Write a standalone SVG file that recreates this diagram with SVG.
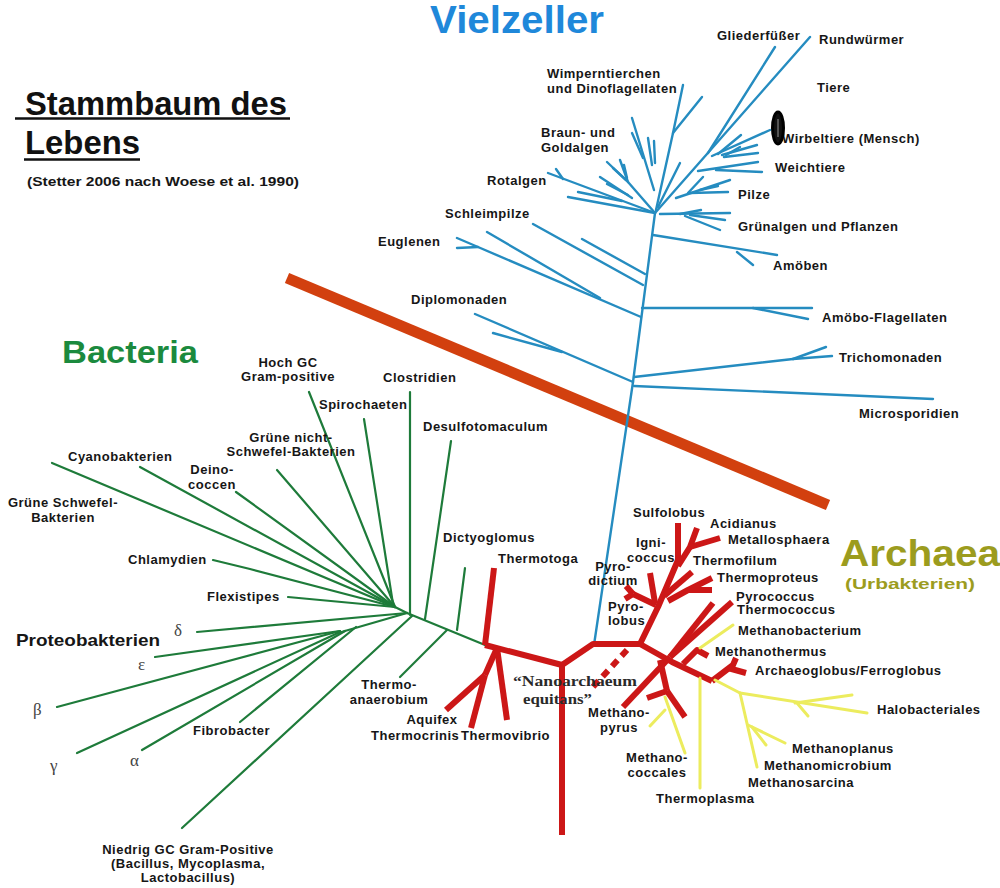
<svg xmlns="http://www.w3.org/2000/svg" width="1000" height="888" viewBox="0 0 1000 888">
  <style>
    .lbl { font-family: "Liberation Sans", Arial, sans-serif; font-weight: bold; font-size: 13px; letter-spacing: 0.5px; fill: #161616; }
    .mid { text-anchor: middle; }
    .greek { font-family: "Liberation Serif", "Times New Roman", serif; font-size: 17px; fill: #444; }
    .euk { stroke: #258cc0; stroke-width: 2.4; fill: none; stroke-linecap: round; stroke-linejoin: round; }
    .bac { stroke: #1e7b3a; stroke-width: 2.2; fill: none; stroke-linecap: round; stroke-linejoin: round; }
    .arc { stroke: #cc1717; stroke-width: 6; fill: none; stroke-linecap: butt; stroke-linejoin: round; }
    .eury { stroke: #ecec5e; stroke-width: 3; fill: none; stroke-linecap: round; stroke-linejoin: round; }
  </style>
  <rect width="1000" height="888" fill="#ffffff"/>

  <!-- heading -->
  <g id="title">
    <text x="25" y="115" font-family="Liberation Sans, Arial, sans-serif" font-weight="bold" font-size="34" fill="#111" textLength="262" lengthAdjust="spacingAndGlyphs">Stammbaum des</text>
    <line x1="15" y1="118.5" x2="290" y2="118.5" stroke="#111" stroke-width="2.5"/>
    <text x="25" y="154" font-family="Liberation Sans, Arial, sans-serif" font-weight="bold" font-size="34" fill="#111" textLength="115" lengthAdjust="spacingAndGlyphs">Lebens</text>
    <line x1="24" y1="159.5" x2="140" y2="159.5" stroke="#111" stroke-width="2.5"/>
    <text x="27" y="186" class="lbl" style="font-size:12.5px;letter-spacing:0" textLength="272" lengthAdjust="spacingAndGlyphs">(Stetter 2006 nach Woese et al. 1990)</text>
  </g>

  <!-- domain names -->
  <g id="domain-vielzeller">
    <text x="430" y="33" font-family="Liberation Sans, Arial, sans-serif" font-weight="bold" font-size="39" fill="#1f88da" textLength="174" lengthAdjust="spacingAndGlyphs">Vielzeller</text>
  </g>
  <g id="domain-bacteria">
    <text x="62" y="363" font-family="Liberation Sans, Arial, sans-serif" font-weight="bold" font-size="31" fill="#1b8a3e" textLength="136" lengthAdjust="spacingAndGlyphs">Bacteria</text>
  </g>
  <g id="domain-archaea">
    <text x="840" y="566" font-family="Liberation Sans, Arial, sans-serif" font-weight="bold" font-size="36" fill="#9c9c1e" textLength="160" lengthAdjust="spacingAndGlyphs">Archaea</text>
    <text x="845" y="589" font-family="Liberation Sans, Arial, sans-serif" font-weight="bold" font-size="15" fill="#9c9c1e" textLength="130" lengthAdjust="spacingAndGlyphs">(Urbakterien)</text>
  </g>

  <!-- separating bar -->
  <line id="divider" x1="287" y1="278" x2="828" y2="505" stroke="#d2400f" stroke-width="11"/>

  <g id="connectors">
    <!-- eukaryotes (blue) -->
    <g class="euk">
      <polyline points="655,213 633,382 594,645"/>
      <line x1="533" y1="224" x2="643" y2="285"/>
      <line x1="582" y1="239" x2="645" y2="274"/>
      <polyline points="457,238 478,247 641,317"/>
      <line x1="457" y1="248" x2="478" y2="247"/>
      <line x1="487" y1="232" x2="600" y2="298"/>
      <line x1="475" y1="314" x2="633" y2="382"/>
      <line x1="493" y1="333" x2="562" y2="352"/>
      <line x1="642" y1="308" x2="812" y2="308"/>
      <line x1="753" y1="308" x2="808" y2="319"/>
      <line x1="634" y1="377" x2="793" y2="359"/>
      <line x1="793" y1="359" x2="826" y2="347"/>
      <line x1="793" y1="359" x2="832" y2="356"/>
      <line x1="634" y1="386" x2="933" y2="399"/>
      <!-- upper left crown -->
      <line x1="548" y1="173" x2="655" y2="213"/>
      <line x1="556" y1="169" x2="563" y2="179"/>
      <line x1="568" y1="197" x2="655" y2="213"/>
      <line x1="578" y1="192" x2="622" y2="201"/>
      <line x1="600" y1="177" x2="632" y2="198"/>
      <line x1="607" y1="184" x2="628" y2="195"/>
      <polyline points="607,162 628,182 655,213"/>
      <line x1="620" y1="160" x2="628" y2="182"/>
      <line x1="624" y1="165" x2="627" y2="178"/>
      <line x1="613" y1="168" x2="626" y2="180"/>
      <line x1="632" y1="118" x2="654" y2="190"/>
      <line x1="632" y1="133" x2="643" y2="158"/>
      <line x1="648" y1="138" x2="652" y2="165"/>
      <line x1="654" y1="141" x2="655" y2="163"/>
      <polyline points="683,85 673,133 656,210"/>
      <line x1="702" y1="97" x2="673" y2="133"/>
      <line x1="680" y1="163" x2="658" y2="207"/>
      <!-- upper right crown -->
      <line x1="655" y1="213" x2="810" y2="37"/>
      <line x1="775" y1="47" x2="708" y2="153"/>
      <line x1="770" y1="130" x2="712" y2="156"/>
      <line x1="741" y1="135" x2="718" y2="154"/>
      <line x1="757" y1="145" x2="722" y2="155"/>
      <line x1="758" y1="153" x2="724" y2="157"/>
      <line x1="740" y1="147" x2="726" y2="155"/>
      <line x1="758" y1="162" x2="698" y2="171"/>
      <line x1="762" y1="172" x2="716" y2="170"/>
      <line x1="730" y1="180" x2="676" y2="198"/>
      <line x1="728" y1="192" x2="690" y2="193"/>
      <line x1="703" y1="177" x2="688" y2="193"/>
      <line x1="718" y1="186" x2="700" y2="190"/>
      <line x1="730" y1="213" x2="660" y2="214"/>
      <line x1="725" y1="220" x2="690" y2="215"/>
      <line x1="720" y1="230" x2="685" y2="216"/>
      <line x1="701" y1="210" x2="680" y2="214"/>
      <line x1="653" y1="235" x2="777" y2="255"/>
      <line x1="737" y1="252" x2="753" y2="265"/>
    </g>

    <!-- bacteria (green) -->
    <g class="bac">
      <line x1="407" y1="613" x2="485" y2="645"/>
      <line x1="309" y1="392" x2="395" y2="607"/>
      <line x1="364" y1="419" x2="393" y2="604"/>
      <line x1="410" y1="392" x2="410" y2="615"/>
      <line x1="451" y1="441" x2="425" y2="619"/>
      <line x1="465" y1="568" x2="457" y2="630"/>
      <line x1="277" y1="470" x2="395" y2="607"/>
      <line x1="236" y1="492" x2="395" y2="607"/>
      <line x1="140" y1="467" x2="395" y2="607"/>
      <line x1="52" y1="463" x2="395" y2="607"/>
      <polyline points="213,560 250,569 395,607"/>
      <line x1="288" y1="597" x2="395" y2="607"/>
      <line x1="395" y1="607" x2="407" y2="613"/>
      <line x1="197" y1="632" x2="407" y2="613"/>
      <line x1="155" y1="657" x2="340" y2="631"/>
      <line x1="57" y1="707" x2="340" y2="631"/>
      <line x1="77" y1="753" x2="338" y2="633"/>
      <line x1="142" y1="750" x2="345" y2="631"/>
      <line x1="240" y1="722" x2="356" y2="627"/>
      <line x1="338" y1="633" x2="407" y2="613"/>
      <line x1="182" y1="828" x2="412" y2="616"/>
      <line x1="400" y1="677" x2="447" y2="630"/>
    </g>

    <!-- archaea and hyperthermophile bacteria (red) -->
    <g class="arc">
      <line x1="494" y1="568" x2="485" y2="645"/>
      <line x1="485" y1="645" x2="562" y2="665"/>
      <line x1="562" y1="665" x2="562" y2="835"/>
      <polyline points="562,665 593,644 640,644"/>
      <line x1="497" y1="648" x2="485" y2="675"/>
      <line x1="485" y1="675" x2="446" y2="710"/>
      <line x1="485" y1="675" x2="471" y2="728"/>
      <line x1="497" y1="648" x2="507" y2="720"/>
      <polyline points="640,644 658,607 678,560 678,523"/>
      <polyline points="678,566 690,547 697,528"/>
      <line x1="690" y1="547" x2="720" y2="538"/>
      <line x1="664" y1="596" x2="692" y2="572"/>
      <polyline points="668,601 688,590 712,578"/>
      <line x1="688" y1="590" x2="712" y2="590"/>
      <line x1="656" y1="605" x2="633" y2="594"/>
      <line x1="633" y1="594" x2="626" y2="586"/>
      <line x1="633" y1="594" x2="625" y2="599"/>
      <line x1="650" y1="573" x2="655" y2="603"/>
      <polyline points="640,644 672,662 712,681"/>
      <polyline points="712,681 733,665 736,658"/>
      <line x1="728" y1="668" x2="746" y2="673"/>
      <polyline points="683,664 697,650 708,656"/>
      <line x1="623" y1="707" x2="670" y2="657"/>
      <line x1="670" y1="657" x2="713" y2="603"/>
      <line x1="670" y1="657" x2="732" y2="602"/>
      <line x1="660" y1="660" x2="667" y2="691"/>
      <line x1="667" y1="691" x2="647" y2="698"/>
      <line x1="667" y1="691" x2="685" y2="717"/>
      <line x1="627" y1="650" x2="592" y2="688" stroke-dasharray="8 6"/>
    </g>

    <!-- euryarchaeota (yellow) -->
    <g class="eury">
      <line x1="700" y1="648" x2="733" y2="625"/>
      <line x1="700" y1="678" x2="700" y2="788"/>
      <polyline points="715,680 740,693 867,713"/>
      <line x1="795" y1="703" x2="852" y2="695"/>
      <line x1="797" y1="703" x2="808" y2="716"/>
      <line x1="740" y1="693" x2="757" y2="767"/>
      <line x1="748" y1="725" x2="785" y2="743"/>
      <line x1="752" y1="727" x2="766" y2="745"/>
      <line x1="665" y1="697" x2="685" y2="753"/>
      <line x1="665" y1="710" x2="650" y2="726"/>
    </g>
  </g>

  <!-- eukaryote taxa -->
  <g id="n-gliederfuesser"><text class="lbl" x="717" y="40">Gliederfüßer</text></g>
  <g id="n-rundwuermer"><text class="lbl" x="819" y="44">Rundwürmer</text></g>
  <g id="n-tiere"><text class="lbl" x="817" y="92">Tiere</text></g>
  <g id="n-wirbeltiere"><text class="lbl" x="782" y="143">Wirbeltiere (Mensch)</text>
    <ellipse cx="778" cy="128" rx="5.5" ry="16" fill="#111" stroke="#000" stroke-width="3"/>
    <line x1="778" y1="119" x2="778" y2="137" stroke="#999" stroke-width="1"/>
  </g>
  <g id="n-weichtiere"><text class="lbl" x="775" y="172">Weichtiere</text></g>
  <g id="n-pilze"><text class="lbl" x="738" y="199">Pilze</text></g>
  <g id="n-gruenalgen"><text class="lbl" x="738" y="231">Grünalgen und Pflanzen</text></g>
  <g id="n-amoeben"><text class="lbl" x="773" y="270">Amöben</text></g>
  <g id="n-wimperntierchen"><text class="lbl" x="547" y="78">Wimperntierchen</text><text class="lbl" x="547" y="93">und Dinoflagellaten</text></g>
  <g id="n-braunalgen"><text class="lbl" x="541" y="137">Braun- und</text><text class="lbl" x="541" y="152">Goldalgen</text></g>
  <g id="n-rotalgen"><text class="lbl" x="487" y="185">Rotalgen</text></g>
  <g id="n-schleimpilze"><text class="lbl" x="445" y="218">Schleimpilze</text></g>
  <g id="n-euglenen"><text class="lbl" x="378" y="246">Euglenen</text></g>
  <g id="n-diplomonaden"><text class="lbl" x="411" y="304">Diplomonaden</text></g>
  <g id="n-amoebo-flagellaten"><text class="lbl" x="822" y="322">Amöbo-Flagellaten</text></g>
  <g id="n-trichomonaden"><text class="lbl" x="839" y="362">Trichomonaden</text></g>
  <g id="n-microsporidien"><text class="lbl" x="859" y="418">Microsporidien</text></g>

  <!-- bacterial taxa -->
  <g id="n-hochgc"><text class="lbl mid" x="288" y="367">Hoch GC</text><text class="lbl mid" x="288" y="381">Gram-positive</text></g>
  <g id="n-clostridien"><text class="lbl" x="383" y="382">Clostridien</text></g>
  <g id="n-spirochaeten"><text class="lbl" x="319" y="409">Spirochaeten</text></g>
  <g id="n-desulfotomaculum"><text class="lbl" x="423" y="431">Desulfotomaculum</text></g>
  <g id="n-gruene-nicht-schwefel"><text class="lbl mid" x="291" y="442">Grüne nicht-</text><text class="lbl mid" x="291" y="456">Schwefel-Bakterien</text></g>
  <g id="n-deinococcen"><text class="lbl mid" x="212" y="474">Deino-</text><text class="lbl mid" x="212" y="489">coccen</text></g>
  <g id="n-cyanobakterien"><text class="lbl" x="68" y="461">Cyanobakterien</text></g>
  <g id="n-gruene-schwefel"><text class="lbl mid" x="63" y="507">Grüne Schwefel-</text><text class="lbl mid" x="63" y="522">Bakterien</text></g>
  <g id="n-chlamydien"><text class="lbl" x="128" y="564">Chlamydien</text></g>
  <g id="n-flexistipes"><text class="lbl" x="207" y="601">Flexistipes</text></g>
  <g id="n-dictyoglomus"><text class="lbl" x="443" y="542">Dictyoglomus</text></g>
  <g id="n-thermotoga"><text class="lbl" x="498" y="563">Thermotoga</text></g>
  <g id="n-proteobakterien"><text class="lbl" x="16" y="646" style="font-size:17px;letter-spacing:0" textLength="144" lengthAdjust="spacingAndGlyphs">Proteobakterien</text>
    <text class="greek" x="174" y="636">δ</text>
    <text class="greek" x="138" y="670">ε</text>
    <text class="greek" x="33" y="715">β</text>
    <text class="greek" x="50" y="771">γ</text>
    <text class="greek" x="130" y="766">α</text>
  </g>
  <g id="n-fibrobacter"><text class="lbl" x="193" y="735">Fibrobacter</text></g>
  <g id="n-thermoanaerobium"><text class="lbl mid" x="389" y="689">Thermo-</text><text class="lbl mid" x="389" y="704">anaerobium</text></g>
  <g id="n-aquifex"><text class="lbl mid" x="432" y="724">Aquifex</text><text class="lbl" x="371" y="740">Thermocrinis</text></g>
  <g id="n-thermovibrio"><text class="lbl" x="461" y="740">Thermovibrio</text></g>
  <g id="n-niedriggc"><text class="lbl mid" x="188" y="854">Niedrig GC Gram-Positive</text><text class="lbl mid" x="188" y="868">(Bacillus, Mycoplasma,</text><text class="lbl mid" x="188" y="882">Lactobacillus)</text></g>

  <!-- archaeal taxa -->
  <g id="n-sulfolobus"><text class="lbl" x="633" y="517">Sulfolobus</text></g>
  <g id="n-acidianus"><text class="lbl" x="710" y="528">Acidianus</text></g>
  <g id="n-metallosphaera"><text class="lbl" x="728" y="544">Metallosphaera</text></g>
  <g id="n-ignicoccus"><text class="lbl mid" x="651" y="547">Igni-</text><text class="lbl mid" x="651" y="562">coccus</text></g>
  <g id="n-thermofilum"><text class="lbl" x="693" y="565">Thermofilum</text></g>
  <g id="n-pyrodictium"><text class="lbl mid" x="613" y="571">Pyro-</text><text class="lbl mid" x="613" y="585">dictium</text></g>
  <g id="n-thermoproteus"><text class="lbl" x="717" y="582">Thermoproteus</text></g>
  <g id="n-pyrolobus"><text class="lbl" x="608" y="611">Pyro-</text><text class="lbl" x="608" y="625">lobus</text></g>
  <g id="n-pyrococcus"><text class="lbl" x="736" y="601">Pyrococcus</text><text class="lbl" x="737" y="614">Thermococcus</text></g>
  <g id="n-methanobacterium"><text class="lbl" x="738" y="635">Methanobacterium</text></g>
  <g id="n-methanothermus"><text class="lbl" x="715" y="656">Methanothermus</text></g>
  <g id="n-archaeoglobus"><text class="lbl" x="755" y="675">Archaeoglobus/Ferroglobus</text></g>
  <g id="n-halobacteriales"><text class="lbl" x="877" y="714">Halobacteriales</text></g>
  <g id="n-methanoplanus"><text class="lbl" x="792" y="753">Methanoplanus</text></g>
  <g id="n-methanomicrobium"><text class="lbl" x="764" y="770">Methanomicrobium</text></g>
  <g id="n-methanosarcina"><text class="lbl" x="748" y="787">Methanosarcina</text></g>
  <g id="n-thermoplasma"><text class="lbl" x="656" y="803">Thermoplasma</text></g>
  <g id="n-methanococcales"><text class="lbl mid" x="657" y="762">Methano-</text><text class="lbl mid" x="657" y="777">coccales</text></g>
  <g id="n-methanopyrus"><text class="lbl mid" x="619" y="717">Methano-</text><text class="lbl mid" x="619" y="732">pyrus</text></g>
  <g id="n-nanoarchaeum">
    <text x="513" y="686" font-family="Liberation Serif, Times New Roman, serif" font-weight="bold" font-size="15" fill="#2a2a2a" textLength="124" lengthAdjust="spacingAndGlyphs">“Nanoarchaeum</text>
    <text x="523" y="704" font-family="Liberation Serif, Times New Roman, serif" font-weight="bold" font-size="15" fill="#2a2a2a" textLength="69" lengthAdjust="spacingAndGlyphs">equitans”</text>
  </g>
</svg>
